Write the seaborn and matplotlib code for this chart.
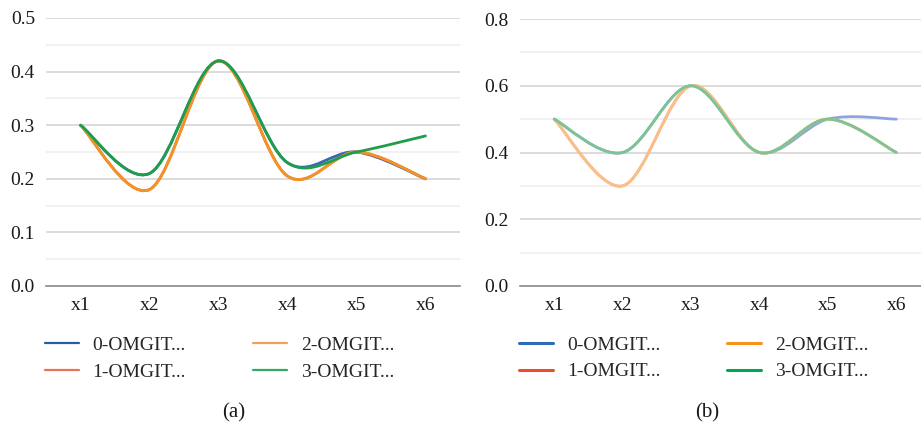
"""Two Excel-style smoothed line charts, panels (a) and (b)."""

import matplotlib.pyplot as plt
import pandas as pd
import seaborn as sns
from matplotlib.lines import Line2D
from matplotlib.patches import PathPatch
from matplotlib.path import Path

categories = ["x1", "x2", "x3", "x4", "x5", "x6"]
series_names = ["0-OMGIT...", "1-OMGIT...", "2-OMGIT...", "3-OMGIT..."]

# panel (a)
a_omgit0 = [0.30, 0.21, 0.42, 0.23, 0.25, 0.20]
a_omgit1 = [0.30, 0.18, 0.42, 0.205, 0.25, 0.20]
a_omgit2 = [0.30, 0.18, 0.42, 0.205, 0.25, 0.20]
a_omgit3 = [0.30, 0.21, 0.42, 0.23, 0.25, 0.28]

# panel (b)
b_omgit0 = [0.50, 0.40, 0.60, 0.40, 0.50, 0.50]
b_omgit1 = [0.50, 0.30, 0.60, 0.40, 0.50, 0.40]
b_omgit2 = [0.50, 0.30, 0.60, 0.40, 0.50, 0.40]
b_omgit3 = [0.50, 0.40, 0.60, 0.40, 0.50, 0.40]

line_colors_a = ["#3A66B5", "#E8603C", "#F39325", "#1E9E4A"]
line_colors_b = ["#8DA5DC", "#F3A88F", "#F9BF86", "#7CC592"]
legend_colors_a = ["#2A5CAA", "#E8735A", "#F2A055", "#35A864"]
legend_colors_b = ["#2E6CB5", "#EA4E2A", "#F7941D", "#00A651"]

FS = 14

sns.set_theme(style="white")
plt.rcParams["font.family"] = ["Liberation Serif", "DejaVu Serif"]
plt.rcParams["font.size"] = FS


def smooth_path(ys):
    """Catmull-Rom style Bezier path through (i, ys[i]) like Excel's smoothed line."""
    pts = [(float(i), float(y)) for i, y in enumerate(ys)]
    n = len(pts)
    verts = [pts[0]]
    codes = [Path.MOVETO]
    for i in range(n - 1):
        p0 = pts[max(i - 1, 0)]
        p1 = pts[i]
        p2 = pts[i + 1]
        p3 = pts[min(i + 2, n - 1)]
        c1 = (p1[0] + (p2[0] - p0[0]) / 6, p1[1] + (p2[1] - p0[1]) / 6)
        c2 = (p2[0] - (p3[0] - p1[0]) / 6, p2[1] - (p3[1] - p1[1]) / 6)
        verts += [c1, c2, p2]
        codes += [Path.CURVE4] * 3
    return Path(verts, codes)


def draw_panel(ax, series, ymax, major, minor, colors, lw, leg_colors, leg_lw,
               caption, caption_x):
    df = pd.DataFrame({
        "Category": categories * len(series),
        "Value": [v for s in series for v in s],
        "Series": [name for name in series_names for _ in categories],
    })
    # invisible seaborn pass sets up the categorical x scale
    sns.lineplot(data=df, x="Category", y="Value", hue="Series",
                 palette=colors, linewidth=0, legend=False, ax=ax)
    for ys, color in zip(series, colors):
        ax.add_patch(PathPatch(smooth_path(ys), fill=False, edgecolor=color,
                               lw=lw, capstyle="round", zorder=3))
    ax.set_ylim(0, ymax)
    ax.set_yticks(major)
    ax.set_yticks(minor, minor=True)
    ax.set_yticklabels([f"{v:.1f}" for v in major])
    ax.grid(which="major", axis="y", color="#D2D2D2", lw=1.1)
    ax.grid(which="minor", axis="y", color="#EDEDED", lw=1.1)
    ax.tick_params(which="both", length=0, pad=8, labelsize=FS, labelcolor="#1A1A1A")
    ax.tick_params(axis="x", pad=8)
    for side in ["left", "top", "right"]:
        ax.spines[side].set_visible(False)
    ax.spines["bottom"].set_color("#8C8C8C")
    ax.spines["bottom"].set_linewidth(1.2)
    ax.set_xlabel("")
    ax.set_ylabel("")
    handles = [Line2D([], [], color=c, lw=leg_lw) for c in leg_colors]
    ax.legend(handles, series_names, ncol=2, frameon=False, fontsize=FS,
              loc="upper left", bbox_to_anchor=(-0.022, -0.16),
              handlelength=1.75, handletextpad=0.72, columnspacing=3.45,
              labelspacing=0.45, borderaxespad=0)
    ax.text(caption_x, -0.475, caption, transform=ax.transAxes, fontsize=15,
            ha="center", va="center", color="#1A1A1A")


fig = plt.figure(figsize=(9.21, 4.25), dpi=100)
ax_a = fig.add_axes([46 / 921, 1 - 286 / 425, 414 / 921, 268 / 425])
ax_b = fig.add_axes([520 / 921, 1 - 286 / 425, 401 / 921, 267 / 425])

draw_panel(ax_a, [a_omgit0, a_omgit1, a_omgit2, a_omgit3], 0.5,
           [0.0, 0.1, 0.2, 0.3, 0.4, 0.5], [0.05, 0.15, 0.25, 0.35, 0.45],
           line_colors_a, 2.0, legend_colors_a, 1.6, "(a)", 0.454)
draw_panel(ax_b, [b_omgit0, b_omgit1, b_omgit2, b_omgit3], 0.8,
           [0.0, 0.2, 0.4, 0.6, 0.8], [0.1, 0.3, 0.5, 0.7],
           line_colors_b, 2.0, legend_colors_b, 2.2, "(b)", 0.466)
ax_a.set_xlim(-0.5, 5.5)
ax_b.set_xlim(-0.5, 5.36)

fig.savefig("out.png", dpi=100)
